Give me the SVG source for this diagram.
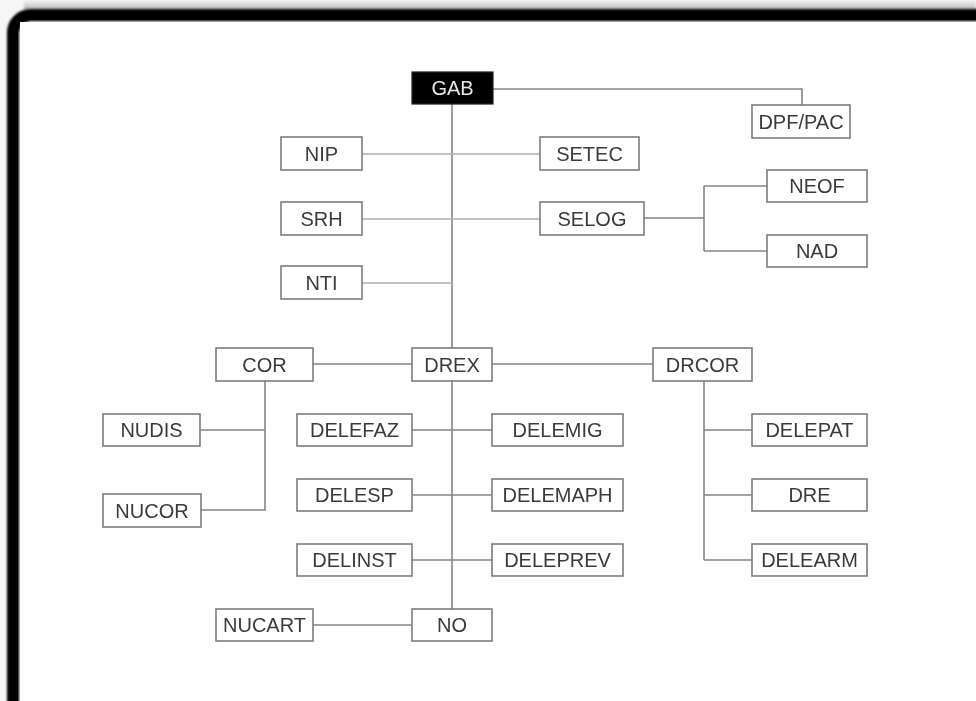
<svg xmlns="http://www.w3.org/2000/svg" width="976" height="701" viewBox="0 0 976 701">
<defs>
<filter id="soft" x="-5%" y="-5%" width="110%" height="110%"><feGaussianBlur stdDeviation="1.3"/></filter>
<filter id="b" x="-5%" y="-20%" width="110%" height="140%"><feGaussianBlur stdDeviation="0.45"/></filter>
<linearGradient id="topg" x1="0" y1="0" x2="0" y2="1"><stop offset="0" stop-color="#f6f6f6"/><stop offset="1" stop-color="#b4b4b4"/></linearGradient>
</defs>
<style>
.box{fill:#fff;stroke:#7c7c7c;stroke-width:1.6}
.t{font-family:"Liberation Sans",Arial,sans-serif;font-size:20px;fill:#3a3a3a;text-anchor:middle}
.c{fill:none;stroke:#858585;stroke-width:1.6}
.l{fill:none;stroke:#b0b0b0;stroke-width:1.6}
</style>
<rect x="0" y="0" width="976" height="701" fill="#f6f6f6"/>
<rect x="24" y="0" width="952" height="10" fill="url(#topg)" filter="url(#soft)"/>
<rect x="13.5" y="15.5" width="1000" height="720" rx="17" fill="#fff" stroke="#000" stroke-width="13" filter="url(#soft)"/>
<rect x="20" y="22" width="960" height="690" fill="#fefefe"/>
<g filter="url(#b)">
<g id="connectors">
<path class="c" d="M493,89 H802 V105"/>
<path class="c" d="M452,104 V348 M452,381 V609"/>
<path class="l" d="M362,154 H540 M362,219 H540 M362,283 H452"/>
<path class="c" d="M644,218 H704 M704,186 V251 M704,186 H767 M704,251 H767"/>
<path class="c" d="M313,364 H412 M492,364 H653"/>
<path class="c" d="M265,381 V510 H201 M201,430 H265"/>
<path class="c" d="M412,430 H492 M412,495 H492 M412,560 H492"/>
<path class="c" d="M704,381 V560 M704,430 H752 M704,495 H752 M704,560 H752"/>
<path class="c" d="M313,625 H412"/>
</g>
<g id="GAB"><rect x="412" y="72" width="81" height="32" fill="#000" stroke="#222" stroke-width="1.2"/><text class="t" x="452.5" y="95.2" style="fill:#e6e6e6">GAB</text></g>
<g id="DPFPAC"><rect class="box" x="752" y="105" width="98" height="33"/><text class="t" x="801" y="128.7">DPF/PAC</text></g>
<g id="NIP"><rect class="box" x="281" y="137" width="81" height="33"/><text class="t" x="321.5" y="160.7">NIP</text></g>
<g id="SETEC"><rect class="box" x="540" y="137" width="99" height="33"/><text class="t" x="589.5" y="160.7">SETEC</text></g>
<g id="SRH"><rect class="box" x="281" y="202" width="81" height="33"/><text class="t" x="321.5" y="225.7">SRH</text></g>
<g id="SELOG"><rect class="box" x="540" y="202" width="104" height="33"/><text class="t" x="592" y="225.7">SELOG</text></g>
<g id="NEOF"><rect class="box" x="767" y="170" width="100" height="32"/><text class="t" x="817" y="193.2">NEOF</text></g>
<g id="NAD"><rect class="box" x="767" y="235" width="100" height="32"/><text class="t" x="817" y="258.2">NAD</text></g>
<g id="NTI"><rect class="box" x="281" y="266" width="81" height="33"/><text class="t" x="321.5" y="289.7">NTI</text></g>
<g id="COR"><rect class="box" x="216" y="348" width="97" height="33"/><text class="t" x="264.5" y="371.7">COR</text></g>
<g id="DREX"><rect class="box" x="412" y="348" width="80" height="33"/><text class="t" x="452" y="371.7">DREX</text></g>
<g id="DRCOR"><rect class="box" x="653" y="348" width="99" height="33"/><text class="t" x="702.5" y="371.7">DRCOR</text></g>
<g id="NUDIS"><rect class="box" x="103" y="414" width="97" height="32"/><text class="t" x="151.5" y="437.2">NUDIS</text></g>
<g id="DELEFAZ"><rect class="box" x="297" y="414" width="115" height="32"/><text class="t" x="354.5" y="437.2">DELEFAZ</text></g>
<g id="DELEMIG"><rect class="box" x="492" y="414" width="131" height="32"/><text class="t" x="557.5" y="437.2">DELEMIG</text></g>
<g id="DELEPAT"><rect class="box" x="752" y="414" width="115" height="32"/><text class="t" x="809.5" y="437.2">DELEPAT</text></g>
<g id="NUCOR"><rect class="box" x="103" y="494" width="98" height="33"/><text class="t" x="152" y="517.7">NUCOR</text></g>
<g id="DELESP"><rect class="box" x="297" y="479" width="115" height="32"/><text class="t" x="354.5" y="502.2">DELESP</text></g>
<g id="DELEMAPH"><rect class="box" x="492" y="479" width="131" height="32"/><text class="t" x="557.5" y="502.2">DELEMAPH</text></g>
<g id="DRE"><rect class="box" x="752" y="479" width="115" height="32"/><text class="t" x="809.5" y="502.2">DRE</text></g>
<g id="DELINST"><rect class="box" x="297" y="544" width="115" height="32"/><text class="t" x="354.5" y="567.2">DELINST</text></g>
<g id="DELEPREV"><rect class="box" x="492" y="544" width="131" height="32"/><text class="t" x="557.5" y="567.2">DELEPREV</text></g>
<g id="DELEARM"><rect class="box" x="752" y="544" width="115" height="32"/><text class="t" x="809.5" y="567.2">DELEARM</text></g>
<g id="NUCART"><rect class="box" x="216" y="609" width="97" height="32"/><text class="t" x="264.5" y="632.2">NUCART</text></g>
<g id="NO"><rect class="box" x="412" y="609" width="80" height="32"/><text class="t" x="452" y="632.2">NO</text></g>
</g>
</svg>
